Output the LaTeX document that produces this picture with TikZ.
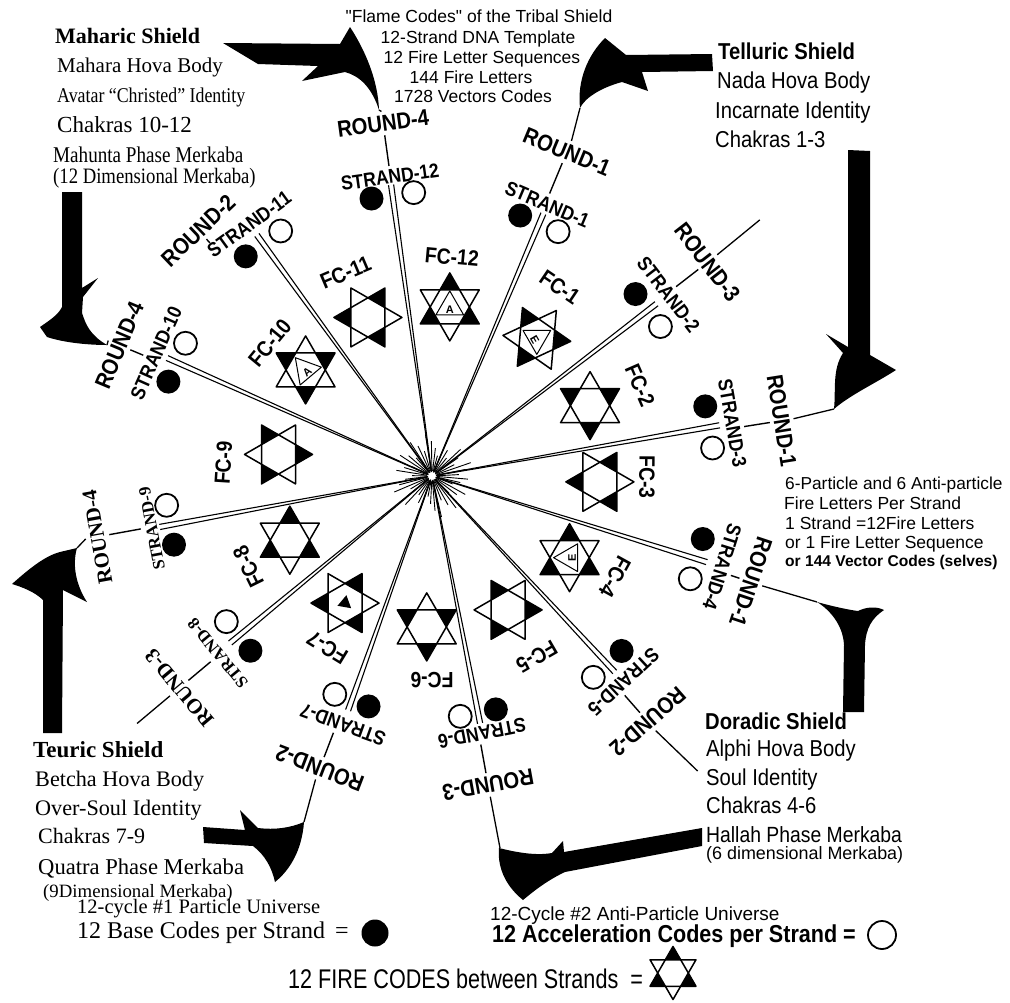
\documentclass[tikz,border=0pt]{standalone}
\usepackage{fontspec}
\setmainfont{Liberation Serif}
\setsansfont{Liberation Sans}
\newfontfamily\scond[FakeStretch=0.88]{Liberation Sans}
\newfontfamily\scondx[FakeStretch=0.8]{Liberation Sans}
\newfontfamily\rcond[FakeStretch=0.85]{Liberation Serif}
\usetikzlibrary{calc}
\newcommand\fsz[1]{\fontsize{#1}{#1}\selectfont}
\newcommand\stS{\scond\bfseries\fsz{20}}
\newcommand\rnS{\scond\bfseries\fsz{23}}
\newcommand\stR{\rmfamily\bfseries\fsz{17}}
\newcommand\rnR{\rmfamily\bfseries\fsz{21}}
\tikzset{pics/hexstar/.style={code={
  \fill[black] (90:34)--(210:34)--(330:34)--cycle;
  \fill[white] (0:19.63)--(60:19.63)--(120:19.63)--(180:19.63)--(240:19.63)--(300:19.63)--cycle;
  \draw[line width=1.5pt,line join=round] (90:34)--(210:34)--(330:34)--cycle;
  \draw[line width=1.5pt,line join=round] (270:34)--(30:34)--(150:34)--cycle;
}},
pics/innertri/.style={code={
  \draw[line width=1pt,line join=round] (90:16)--(210:16)--(330:16)--cycle;
}}}
\begin{document}
\begin{tikzpicture}[x=1pt,y=1pt,
  strand/.style={line width=1.1pt},
  burst/.style={line width=0.9pt},
  dotn/.style={circle,fill=black,minimum size=24pt,inner sep=0pt},
  opn/.style={circle,draw=black,line width=1.8pt,minimum size=23pt,inner sep=0pt},
  fclab/.style={inner sep=0pt,font=\scond\bfseries\fsz{22}},
  tickln/.style={line width=1.4pt},
  conn/.style={line width=1.3pt},
  arrowfill/.style={fill=black},
  txt/.style={anchor=base west,inner sep=0pt},
  ctxt/.style={anchor=base,inner sep=0pt}]
\useasboundingbox[fill=white] (0,0) rectangle (1010,-1002);
\coordinate (c) at (432,-476);

% center burst
\foreach \a [count=\i] in {0,8,...,352}{
  \pgfmathsetmacro\L{20+mod(\i*7,23)}
  \draw[burst] ($(c)+(\a+3:5)$) -- ($(c)+(\a+3:\L)$);
}

% strands
\foreach \k/\aS/\rE/\rL/\aR/\rR/\nR/\fS/\fR in {
 1/67/285/295/67.4/351/1/\stS/\rnS,
 2/37.5/283/298/37.8/349/3/\stS/\rnS,
 3/10/292/305/9/354/1/\stS/\rnS,
 4/-17.4/288/304/-18.4/336/1/\stS/\rnS,
 5/-47/268/281/-48.7/327/2/\stS/\rnS,
 6/-79/252/262/-79.7/314/3/\stS/\rnS,
 7/-109.7/249/264/-111/313/2/\stS/\rnS,
 8/-140.4/262/278/-140/330/3/\stR/\rnR,
 9/190.6/277/285/190.3/340/4/\stR/\rnR,
 10/156/290/302/157.3/339/4/\stS/\rnS,
 11/126/298/311/133.6/339/2/\stS/\rnS,
 12/98/294/302/97.9/356/4/\stS/\rnS}{
  \coordinate (e\k) at ($(c)+(\aS:\rE)$);
  \draw[strand] (c) -- ($(e\k)!2.6pt!90:(c)$);
  \draw[strand] (c) -- ($(e\k)!2.6pt!-90:(c)$);
  \node[dotn] (d\k) at ($(c)+(\aS+4.3:\rE-10)$) {};
  \node[opn] (o\k) at ($(c)+(\aS-4.3:\rE-10)$) {};
  \node[inner sep=0pt,font=\fS,rotate=\aS-90] (sl\k) at ($(c)+(\aS:\rL)$) {STRAND-\k};
  \node[inner sep=0pt,font=\fR,rotate=\aR-90] (rl\k) at ($(c)+(\aR:\rR)$) {ROUND-\nR};
  \coordinate (tk\k a) at ($(c)+(\aR:\rL+11)$);
  \coordinate (tk\k b) at ($(c)+(\aR:\rR-12)$);
  \draw[tickln] (tk\k a) -- (tk\k b);
  \coordinate (rt\k) at ($(c)+(\aR:\rR+12)$);
}
\fill[white] (c) circle (4);

% stars
\foreach \k/\pa/\pr/\al in {1/52.7/173/25, 2/24/173/60, 3/-2/168/-30, 4/-30.7/160/0,
  5/-60.4/154/30, 6/-92/151/60, 7/-124.4/154/-30, 8/-155.7/156/0, 9/172/155/30,
  10/140/165/60, 11/112/171/-30, 12/84/170/0}{
  \pic[rotate=\al] (st\k) at ($(c)+(\pa:\pr)$) {hexstar};
}
% inner marks
\foreach \k/\pa/\pr/\ro/\lt in {12/84/170/0/A, 1/52.7/173/-60/E, 10/140/165/40/A, 4/-30.7/160/90/E}{
  \pic[rotate=\ro] (it\k) at ($(c)+(\pa:\pr)$) {innertri};
  \node[inner sep=0pt,font=\sffamily\bfseries\fsz{11},rotate=\ro] (lt\k) at ($(c)+(\pa:\pr)+(\ro-90:2.5)$) {\lt};
}
\coordinate (in7) at ($(c)+(-124.4:154)$);
\fill ($(in7)+(-40:8)$) -- ($(in7)+(80:8)$) -- ($(in7)+(200:8)$) -- cycle;

\foreach \k/\la/\lr in {1/55.9/228, 2/23.6/227, 3/-0.3/215, 4/-28.9/209, 5/-59.9/209,
  6/-90/204, 7/-121.4/201, 8/-153.7/205, 9/176.4/209, 10/140.6/210, 11/113/221, 12/84.8/220}{
  \node[fclab,rotate=\la-90] (fc\k) at ($(c)+(\la:\lr)$) {FC-\k};
}

% big arrows
\fill[arrowfill] (223,-43) -- (340,-44) -- (350,-27) .. controls (365,-50) and (378,-80) .. (379,-110) .. controls (372,-88) and (360,-76) .. (345,-72) -- (302,-81) -- (318,-66) -- (258,-64) -- cycle;
\coordinate (aA) at (379,-110);
\fill[arrowfill] (605,-38) -- (626,-55) -- (712,-54) -- (713,-71) -- (642,-72) -- (648,-91) -- (622,-82) .. controls (600,-88) and (585,-98) .. (580,-108) .. controls (577,-80) and (588,-55) .. (605,-38) -- cycle;
\coordinate (aB) at (580,-108);
\fill[arrowfill] (848,-150) -- (870,-151) -- (870,-355) -- (896,-370) .. controls (876,-383) and (850,-395) .. (834,-409) .. controls (836,-390) and (832,-370) .. (843,-353) -- (826,-334) -- (848,-347) -- cycle;
\coordinate (aC) at (834,-409);
\fill[arrowfill] (843,-712) -- (844,-645) .. controls (843,-625) and (830,-610) .. (817,-602) .. controls (835,-607) and (850,-610) .. (858,-611) .. controls (866,-607) and (876,-606) .. (884,-610) .. controls (872,-618) and (866,-628) .. (865,-645) -- (864,-712) -- cycle;
\coordinate (aD) at (817,-602);
\fill[arrowfill] (702,-828) -- (702,-846) -- (565,-872) .. controls (548,-880) and (535,-890) .. (523,-900) .. controls (508,-888) and (497,-870) .. (499,-848) .. controls (515,-852) and (535,-856) .. (552,-853) -- (563,-841) -- (564,-852) -- cycle;
\coordinate (aE) at (500,-848);
\fill[arrowfill] (203,-827) -- (245,-830) -- (240,-810) -- (258,-828) .. controls (275,-830) and (290,-828) .. (304,-822) .. controls (302,-850) and (290,-870) .. (275,-882) .. controls (272,-868) and (265,-855) .. (253,-846) -- (204,-843) -- cycle;
\coordinate (aF) at (304,-822);
\fill[arrowfill] (43,-733) -- (43,-600) .. controls (35,-592) and (22,-587) .. (12,-584) .. controls (30,-568) and (45,-556) .. (60,-552) -- (77,-548) .. controls (72,-565) and (76,-585) .. (87,-602) -- (63,-590) -- (62,-733) -- cycle;
\coordinate (aG) at (77,-548);
\fill[arrowfill] (62,-192) -- (82,-192) -- (82,-288) -- (98,-278) -- (83,-297) -- (82,-313) .. controls (86,-325) and (90,-335) .. (107,-345) .. controls (90,-345) and (65,-343) .. (47,-337) -- (40,-327) .. controls (50,-320) and (58,-315) .. (62,-307) -- cycle;
\coordinate (aH) at (107,-345);

\draw[conn] (rt12) -- (aA);
\draw[conn] (rt1) -- (aB);
\draw[conn] (rt3) -- (aC);
\draw[conn] (rt4) -- (aD);
\draw[conn] (rt6) -- (aE);
\draw[conn] (rt7) -- (aF);
\draw[conn] (rt9) -- (aG);
\draw[conn] (rt10) -- (aH);
\coordinate (f2) at ($(c)+(38:416)$);
\coordinate (f5) at ($(c)+(-48:397)$);
\coordinate (f8) at ($(c)+(-140:385)$);
\draw[conn] (rt2) -- (f2);
\draw[conn] (rt5) -- (f5);
\draw[conn] (rt8) -- (f8);

% text blocks
\node[txt,font=\bfseries\fsz{22}] (mah1) at (55,-43) {Maharic Shield};
\node[txt,font=\fsz{21}] (mah2) at (57,-72) {Mahara Hova Body};
\node[txt,font=\rcond\fsz{21}] (mah3) at (57,-102) {Avatar “Christed” Identity};
\node[txt,font=\fsz{23}] (mah4) at (57,-132) {Chakras 10-12};
\node[txt,font=\rcond\fsz{22.5}] (mah5) at (53,-162) {Mahunta Phase Merkaba};
\node[txt,font=\rcond\fsz{22}] (mah6) at (53,-183) {(12 Dimensional Merkaba)};

\node[ctxt,font=\sffamily\fsz{17.5}] (fl1) at (479,-22) {\textquotedbl Flame Codes\textquotedbl\ of the Tribal Shield};
\node[ctxt,font=\sffamily\fsz{17.5}] (fl2) at (478,-43) {12-Strand DNA Template};
\node[ctxt,font=\sffamily\fsz{17.5}] (fl3) at (482,-63) {12 Fire Letter Sequences};
\node[ctxt,font=\sffamily\fsz{17.5}] (fl4) at (471,-83) {144 Fire Letters};
\node[ctxt,font=\sffamily\fsz{17.5}] (fl5) at (473,-102) {1728 Vectors Codes};

\node[txt,font=\scond\bfseries\fsz{23}] (tel1) at (718,-59) {Telluric Shield};
\node[txt,font=\scond\fsz{23}] (tel2) at (717,-88) {Nada Hova Body};
\node[txt,font=\scond\fsz{23}] (tel3) at (715,-118) {Incarnate Identity};
\node[txt,font=\scond\fsz{23}] (tel4) at (715,-147) {Chakras 1-3};

\node[txt,font=\sffamily\fsz{17.3}] (six1) at (785,-489) {6-Particle and 6 Anti-particle};
\node[txt,font=\sffamily\fsz{17.5}] (six2) at (784,-509) {Fire Letters Per Strand};
\node[txt,font=\sffamily\fsz{17.5}] (six3) at (785,-529) {1 Strand =12Fire Letters};
\node[txt,font=\sffamily\fsz{17.5}] (six4) at (785,-548) {or 1 Fire Letter Sequence};
\node[txt,font=\sffamily\bfseries\fsz{15.6}] (six5) at (785,-566) {or 144 Vector Codes (selves)};

\node[txt,font=\scond\bfseries\fsz{23}] (dor1) at (705,-729) {Doradic Shield};
\node[txt,font=\scond\fsz{23}] (dor2) at (706,-756) {Alphi Hova Body};
\node[txt,font=\scond\fsz{23}] (dor3) at (706,-785) {Soul Identity};
\node[txt,font=\scond\fsz{23}] (dor4) at (706,-813) {Chakras 4-6};
\node[txt,font=\scond\fsz{22}] (dor5) at (706,-842) {Hallah Phase Merkaba};
\node[txt,font=\sffamily\fsz{17.9}] (dor6) at (706,-859) {(6 dimensional Merkaba)};

\node[txt,font=\bfseries\fsz{23}] (teu1) at (33,-757) {Teuric Shield};
\node[txt,font=\fsz{22.2}] (teu2) at (35,-786) {Betcha Hova Body};
\node[txt,font=\fsz{22.2}] (teu3) at (35,-815) {Over-Soul Identity};
\node[txt,font=\fsz{22}] (teu4) at (38,-843) {Chakras 7-9};
\node[txt,font=\fsz{22.6}] (teu5) at (38,-874) {Quatra Phase Merkaba};
\node[txt,font=\fsz{18.8}] (teu6) at (43,-897) {(9Dimensional Merkaba)};
\node[txt,font=\fsz{20.5}] (leg1) at (77,-913) {12-cycle \#1 Particle Universe};
\node[txt,font=\fsz{24}] (leg2) at (77,-938) {12 Base Codes per Strand \,=};
\node[dotn,minimum size=27pt] (legdot) at (375,-933) {};

\node[txt,font=\sffamily\fsz{19}] (leg3) at (490,-920) {12-Cycle \#2 Anti-Particle Universe};
\node[txt,font=\scond\bfseries\fsz{24.5}] (leg4) at (492,-942) {12 Acceleration Codes per Strand =};
\node[opn,minimum size=28pt] (legcirc) at (882,-935) {};
\node[txt,font=\scondx\fsz{27}] (leg5) at (288,-988) {12 FIRE CODES between Strands \ =};
\pic[scale=0.78] (legstar) at (673,-973) {hexstar};
\end{tikzpicture}
\end{document}
